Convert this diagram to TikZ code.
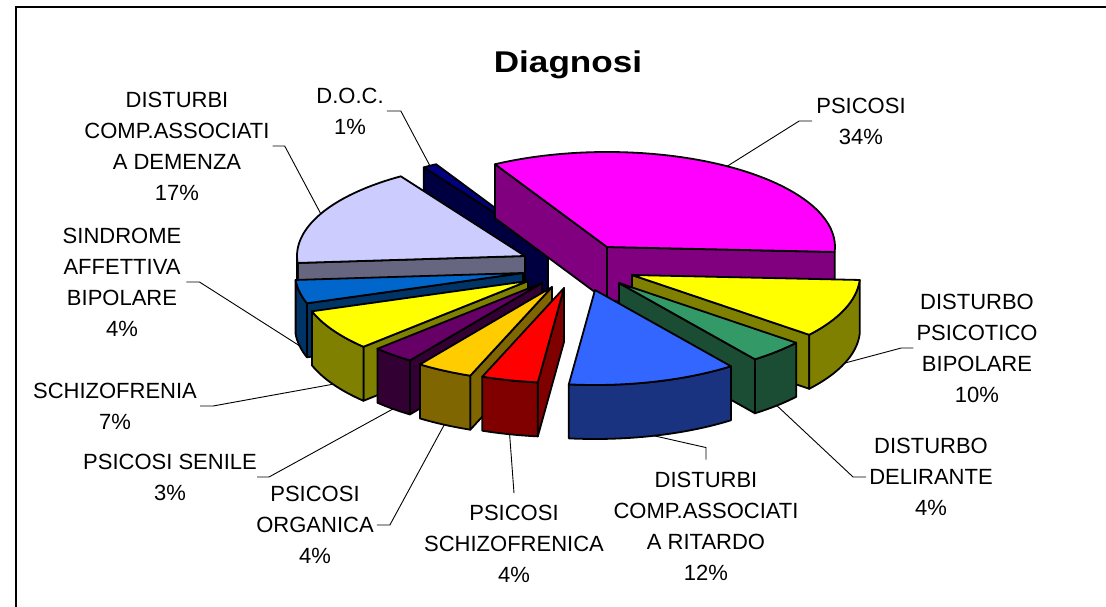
\documentclass[tikz,border=0pt]{standalone}
\usepackage{fontspec}
\setmainfont{Liberation Sans}
\usetikzlibrary{calc}

\definecolor{docTop}{HTML}{000080}\definecolor{docSide}{HTML}{000040}
\definecolor{psiTop}{HTML}{FF00FF}\definecolor{psiSide}{HTML}{800080}
\definecolor{demTop}{HTML}{CCCCFF}\definecolor{demSide}{HTML}{666680}
\definecolor{sinTop}{HTML}{0066CC}\definecolor{sinSide}{HTML}{003366}
\definecolor{yelTop}{HTML}{FFFF00}\definecolor{yelSide}{HTML}{808000}
\definecolor{delTop}{HTML}{339966}\definecolor{delSide}{HTML}{1A4D33}
\definecolor{senTop}{HTML}{660066}\definecolor{senSide}{HTML}{330033}
\definecolor{orgTop}{HTML}{FFCC00}\definecolor{orgSide}{HTML}{806600}
\definecolor{ritTop}{HTML}{3366FF}\definecolor{ritSide}{HTML}{1A3380}
\definecolor{schTop}{HTML}{FF0000}\definecolor{schSide}{HTML}{800000}

\newcommand{\pierx}{228}
\newcommand{\piery}{95}
\newcommand{\piedepth}{54}

% #1 name, #2 #3 apex, #4 #5 angles, #6 top colour, #7 side colour
\newcommand{\pieslice}[7]{%
  \coordinate (#1) at (#2,#3);
  \pgfmathtruncatemacro{\faceA}{cos(#4)>0}
  \pgfmathtruncatemacro{\faceB}{cos(#5)<0}
  \pgfmathsetmacro{\wS}{max(#4,180)}
  \pgfmathsetmacro{\wE}{min(#5,360)}
  \pgfmathtruncatemacro{\wall}{\wE>\wS}
  \pgfmathsetmacro{\tM}{(#4+#5)/2}
  \ifnum\faceA=1
    \draw[slice edge,fill=#7] (#1) -- ++({\pierx*cos(#4)},{-\piery*sin(#4)}) -- ++(0,\piedepth) -- ($(#1)+(0,\piedepth)$) -- cycle;
  \fi
  \ifnum\faceB=1
    \draw[slice edge,fill=#7] (#1) -- ++({\pierx*cos(#5)},{-\piery*sin(#5)}) -- ++(0,\piedepth) -- ($(#1)+(0,\piedepth)$) -- cycle;
  \fi
  \ifnum\wall=1
    \draw[slice edge,fill=#7] ($(#1)+({\pierx*cos(\wS)},{-\piery*sin(\wS)})$)
      arc[start angle=-\wS,end angle=-\wE,x radius=\pierx,y radius=\piery] -- ++(0,\piedepth)
      arc[start angle=-\wE,end angle=-\wS,x radius=\pierx,y radius=\piery] -- cycle;
  \fi
  \draw[slice edge,fill=#6] (#1) -- ++({\pierx*cos(#4)},{-\piery*sin(#4)})
    arc[start angle=-#4,end angle=-#5,x radius=\pierx,y radius=\piery] -- cycle;
  \pgfmathtruncatemacro{\front}{sin(\tM)<0}
  \ifnum\front=1
    \coordinate (tip #1) at ($(#1)+({\pierx*cos(\tM)},{-\piery*sin(\tM)+\piedepth})$);
  \else
    \coordinate (tip #1) at ($(#1)+({\pierx*cos(\tM)},{-\piery*sin(\tM)})$);
  \fi
}

\begin{document}
\begin{tikzpicture}[x=1pt,y=-1pt,
  slice edge/.style={draw=black,line width=1.8pt,line join=round},
  leader/.style={draw=black,line width=0.9pt},
  lbl/.style={align=center,inner sep=0pt,font=\fontsize{22}{31}\selectfont}]
\useasboundingbox (0,0) rectangle (1106,607);
\draw[line width=2.4pt] (16,607) -- (16,7) -- (1106,7);

\node[anchor=base,font=\bfseries\fontsize{30}{36}\selectfont] (title) at (568,73) {\scalebox{1.17}[1]{Diagnosi}};

% slices, back to front
\pieslice{doc}{548}{247}{119.4}{123}{docTop}{docSide}
\pieslice{psicosi}{607}{247}{-3}{119.4}{psiTop}{psiSide}
\pieslice{demenza}{525}{256}{123}{184.2}{demTop}{demSide}
\pieslice{sindrome}{523}{273}{184.2}{198.6}{sinTop}{sinSide}
\pieslice{dpb}{632}{275}{321}{357}{yelTop}{yelSide}
\pieslice{schizofrenia}{528}{281}{198.6}{223.8}{yelTop}{yelSide}
\pieslice{delirante}{619}{283}{306.6}{321}{delTop}{delSide}
\pieslice{senile}{542}{283}{223.8}{234.6}{senTop}{senSide}
\pieslice{organica}{552}{287}{234.6}{249}{orgTop}{orgSide}
\pieslice{ritardo}{595}{290}{263.4}{306.6}{ritTop}{ritSide}
\pieslice{schizofrenica}{564}{288}{249}{263.4}{schTop}{schSide}

% labels
\node[lbl] (lbl psicosi) at (861,121) {PSICOSI\\34\%};
\node[lbl] (lbl doc) at (350,111) {D.O.C.\\1\%};
\node[lbl] (lbl demenza) at (177,146) {DISTURBI\\COMP.ASSOCIATI\\A DEMENZA\\17\%};
\node[lbl] (lbl sindrome) at (122,282) {SINDROME\\AFFETTIVA\\BIPOLARE\\4\%};
\node[lbl] (lbl schizofrenia) at (115,406) {SCHIZOFRENIA\\7\%};
\node[lbl] (lbl senile) at (170,477) {PSICOSI SENILE\\3\%};
\node[lbl] (lbl organica) at (315,525) {PSICOSI\\ORGANICA\\4\%};
\node[lbl] (lbl schizofrenica) at (514,544) {PSICOSI\\SCHIZOFRENICA\\4\%};
\node[lbl] (lbl ritardo) at (706,526) {DISTURBI\\COMP.ASSOCIATI\\A RITARDO\\12\%};
\node[lbl] (lbl delirante) at (931,477) {DISTURBO\\DELIRANTE\\4\%};
\node[lbl] (lbl dpb) at (977,348) {DISTURBO\\PSICOTICO\\BIPOLARE\\10\%};

% leader lines
\draw[leader] ([xshift=-4pt]lbl psicosi.west) -- ++(-13,0) -- (tip psicosi);
\draw[leader] ([xshift=3pt]lbl doc.east) -- ++(14,0) -- (tip doc);
\draw[leader] ([xshift=3pt]lbl demenza.east) -- ++(12,0) -- (tip demenza);
\draw[leader] ([xshift=5pt]lbl sindrome.east) -- ++(13,0) -- (tip sindrome);
\draw[leader] ([xshift=3pt]lbl schizofrenia.east) -- ++(13,0) -- (tip schizofrenia);
\draw[leader] (lbl senile.east) -- ++(12,0) -- (tip senile);
\draw[leader] ([xshift=3pt]lbl organica.east) -- ++(13,0) -- (tip organica);
\draw[leader] ([yshift=12pt]lbl schizofrenica.north) -- (tip schizofrenica);
\draw[leader] ([yshift=12pt]lbl ritardo.north) -- ++(0,-12) -- (tip ritardo);
\draw[leader] ([xshift=-3pt]lbl delirante.west) -- ++(-13,0) -- (tip delirante);
\draw[leader] ([xshift=-3pt]lbl dpb.west) -- ++(-12,0) -- (tip dpb);
\end{tikzpicture}
\end{document}
